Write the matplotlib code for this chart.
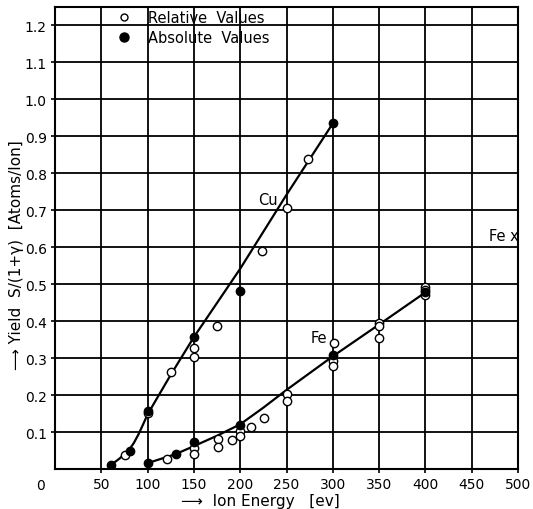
import matplotlib
matplotlib.use("Agg")
import matplotlib.pyplot as plt

# ---- data ----
cu_abs_x = [60, 81, 100, 150, 200, 300]
cu_abs_y = [0.010, 0.050, 0.158, 0.358, 0.481, 0.935]
cu_rel_x = [76, 100, 125, 150, 150, 175, 224, 250, 273]
cu_rel_y = [0.039, 0.152, 0.263, 0.327, 0.303, 0.387, 0.590, 0.705, 0.840]
cu_curve_x = [60, 70, 80, 85, 90, 95, 100, 125, 150, 200, 250, 300]
cu_curve_y = [0.010, 0.029, 0.052, 0.070, 0.093, 0.120, 0.148, 0.255, 0.357, 0.542, 0.742, 0.935]

fe_abs_x = [100, 131, 150, 200, 300, 400]
fe_abs_y = [0.015, 0.040, 0.072, 0.119, 0.309, 0.478]
fe_rel_x = [121, 150, 150, 176, 176, 191, 200, 200, 212, 226, 251, 251,
            301, 300, 300, 350, 350, 350, 400, 400, 400]
fe_rel_y = [0.027, 0.057, 0.041, 0.081, 0.059, 0.079, 0.104, 0.088, 0.113, 0.138,
            0.203, 0.183, 0.340, 0.293, 0.280, 0.396, 0.387, 0.354, 0.492, 0.485, 0.472]
fe_curve_x = [100, 130, 150, 175, 200, 225, 250, 300, 350, 400]
fe_curve_y = [0.016, 0.040, 0.062, 0.090, 0.121, 0.166, 0.214, 0.305, 0.391, 0.478]

x_ticks = [50, 100, 150, 200, 250, 300, 350, 400, 450, 500]
y_ticks = [0.1, 0.2, 0.3, 0.4, 0.5, 0.6, 0.7, 0.8, 0.9, 1.0, 1.1, 1.2]

fig = plt.figure(figsize=(5.33, 5.10), dpi=100)
ax = fig.add_axes([0.1032, 0.0784, 0.8687, 0.9059])
ax.set_xlim(0, 500)
ax.set_ylim(0, 1.25)

ax.set_xticks(x_ticks)
ax.set_xticklabels([str(v) for v in x_ticks])
ax.set_yticks(y_ticks)
ax.set_yticklabels([f"{v:.1f}" for v in y_ticks])
ax.tick_params(axis='both', labelsize=10, length=3, width=1.2, color='black', pad=3)
ax.grid(True, color='black', linewidth=1.3)
ax.set_axisbelow(True)
for s in ax.spines.values():
    s.set_linewidth(1.5)

# curves
ax.plot(cu_curve_x, cu_curve_y, color='black', linewidth=1.6, zorder=3)
ax.plot(fe_curve_x, fe_curve_y, color='black', linewidth=1.6, zorder=3)

ms = 6.0
ax.plot(cu_rel_x, cu_rel_y, 'o', mfc='white', mec='black', mew=1.0, ms=ms, ls='none', zorder=4)
ax.plot(fe_rel_x, fe_rel_y, 'o', mfc='white', mec='black', mew=1.0, ms=ms, ls='none', zorder=4)
ax.plot(cu_abs_x, cu_abs_y, 'o', color='black', ms=ms, ls='none', zorder=5)
ax.plot(fe_abs_x, fe_abs_y, 'o', color='black', ms=ms, ls='none', zorder=5)

# legend drawn in the grid
ax.plot([74], [1.222], 'o', mfc='white', mec='black', mew=1.0, ms=5, clip_on=False, zorder=5)
ax.plot([74], [1.168], 'o', color='black', ms=6.5, clip_on=False, zorder=5)
ax.text(100, 1.222, "Relative  Values", fontsize=10.5, va='center', ha='left')
ax.text(100, 1.168, "Absolute  Values", fontsize=10.5, va='center', ha='left')

# labels
ax.text(230, 0.73, "Cu", fontsize=10.5, ha='center', va='center')
ax.text(285, 0.355, "Fe", fontsize=10.5, ha='center', va='center')
ax.text(469, 0.632, "Fe x", fontsize=10.5, ha='left', va='center', clip_on=False)

fig.text(40 / 533, 1 - 486 / 510, "0", fontsize=10, ha='center', va='center')
fig.text(260 / 533, 1 - 502 / 510, "\u27f6  Ion Energy   [ev]", fontsize=11, ha='center', va='center')
fig.text(17 / 533, 1 - 255 / 510, "\u27f6 Yield  S/(1+\u03b3)  [Atoms/Ion]", fontsize=11,
         rotation=90, ha='center', va='center')

fig.savefig("out.png", dpi=100)
